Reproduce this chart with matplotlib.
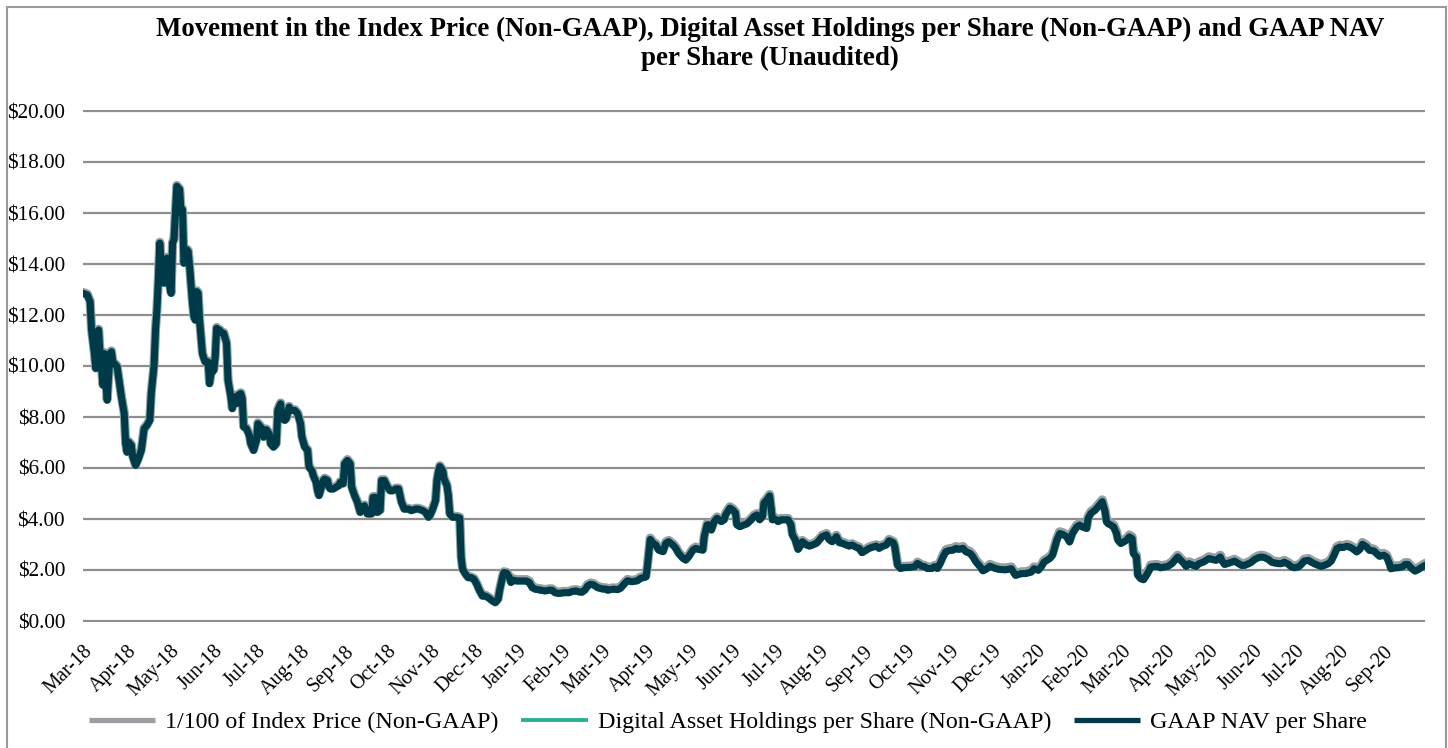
import matplotlib
matplotlib.use('Agg')
import matplotlib.pyplot as plt
import matplotlib.dates as mdates
from matplotlib.ticker import FuncFormatter
from matplotlib.lines import Line2D
from matplotlib.patches import Rectangle
import pandas as pd

# ---------------- data ----------------
start_date = '2018-03-01'
end_date = '2020-09-30'

day_offset = [
    0, 3, 5, 6, 8, 9, 10, 11, 12, 13, 14, 15, 16, 17, 19, 20, 21, 23, 24, 26,
    27, 29, 30, 31, 32, 34, 35, 37, 39, 41, 43, 45, 47, 48, 50, 51, 52, 53, 54, 55,
    57, 58, 59, 60, 62, 63, 64, 65, 66, 68, 69, 70, 71, 73, 74, 75, 77, 78, 79, 80,
    81, 82, 84, 85, 86, 88, 89, 90, 92, 93, 94, 95, 96, 98, 99, 101, 102, 104, 105, 106,
    108, 109, 111, 112, 113, 115, 117, 118, 120, 122, 123, 126, 127, 129, 131, 132, 134, 136, 137, 139,
    140, 142, 143, 145, 146, 149, 151, 153, 154, 156, 158, 159, 161, 162, 164, 165, 166, 167, 169, 170,
    172, 173, 174, 176, 178, 180,
    181, 183, 184, 186, 188, 189, 191, 193, 195, 196, 198, 200, 203, 204, 206, 207, 209, 210, 212, 214,
    216, 218, 220, 222, 224, 226, 229, 231, 234, 236, 239, 241, 243, 244, 246, 248, 249, 250, 251, 253,
    254, 256, 257, 258, 260, 263, 265, 266, 267, 269, 271, 273, 275, 277, 279, 281, 283, 285, 288, 290,
    292, 293, 295, 296, 298, 300, 301, 303, 305, 310, 312, 314, 316, 318, 322, 325, 328, 330, 332, 335,
    338, 342, 344, 347, 349, 351, 353, 355, 357, 359, 362, 365, 368, 369, 371, 373, 376,
    378, 381, 383, 386, 390, 392, 396, 397, 399, 401, 403, 405, 408, 410, 412, 415, 417, 419, 422, 424,
    426, 429, 431, 433, 436, 437, 439, 440, 442, 444, 446, 449, 451, 452, 455, 457, 459, 460, 462, 465,
    467, 470, 472, 474, 476, 478, 479, 481, 483, 484, 485, 487, 489, 491, 493, 496, 498, 499, 501, 503,
    505, 506, 509, 511, 513, 516, 518, 520, 523, 525, 527, 530, 532, 534, 537, 539, 541, 544, 546, 548,
    551, 553, 555, 558, 560, 562, 565, 567, 570, 571, 573, 575, 577, 580, 582, 585, 587, 590, 592, 594,
    597, 599, 601, 603, 605, 607, 609, 612, 614, 616, 619, 621, 624, 626, 628, 631, 633, 635, 638, 640,
    642, 645,
    649, 653, 656, 660, 663, 667, 669, 672, 674, 676, 680, 682, 685, 687, 689, 692, 694, 696, 699, 701,
    703, 706, 707, 709, 712, 714, 716, 717, 719, 720, 721, 723, 725, 727, 728, 730, 732, 734, 736, 738,
    739, 741, 742, 744, 746, 748, 750, 751, 754, 756, 758, 761, 763, 766, 768, 770, 771, 774, 776, 778,
    781, 783, 785, 788, 790, 792, 795, 797, 800, 801, 803, 805, 808, 810, 812, 815, 817, 820, 822, 824,
    827, 829, 831, 834, 836, 838, 841, 843, 845, 848, 850, 852, 855, 857, 859, 862, 864, 866, 869, 871,
    873, 876, 878, 880, 882, 884, 886, 889, 891, 893, 896, 898, 900, 903, 905, 908, 910, 912, 915, 917,
    919, 920, 923, 925, 928, 930, 932, 934, 937, 939, 942, 944,
]

nav_per_share = [
    12.85, 12.79, 12.52, 11.41, 10.49, 9.90, 11.34, 11.41, 10.49, 9.97, 9.25, 10.49, 9.44, 8.66, 10.49, 10.56, 10.16, 10.03, 9.97, 9.18,
    8.79, 8.13, 6.95, 6.62, 7.02, 6.89, 6.43, 6.10, 6.36, 6.69, 7.54, 7.67, 7.87, 8.92, 10.03, 11.41, 12.20, 13.38, 14.82, 14.03,
    13.25, 13.51, 14.23, 13.38, 12.85, 14.82, 14.95, 16.00, 17.05, 16.92, 16.00, 16.13, 14.03, 14.56, 14.49, 13.90, 12.46, 11.93, 11.80, 12.92,
    12.85, 11.80, 10.49, 10.30, 10.16, 10.16, 9.31, 9.70, 9.84, 10.36, 11.48, 11.34, 11.41, 11.28, 11.28, 10.89, 9.44, 8.79, 8.33, 8.79,
    8.52, 8.85, 8.92, 8.72, 7.61, 7.54, 7.28, 6.95, 6.69, 7.08, 7.74, 7.54, 7.21, 7.50, 7.34, 6.95, 6.82, 6.95, 8.26, 8.52,
    7.93, 7.87, 7.93, 8.39, 8.26, 8.26, 8.13, 7.74, 7.21, 6.82, 6.69, 6.03, 5.90, 5.70, 5.44, 5.11, 4.92, 5.11, 5.51, 5.57,
    5.51, 5.25, 5.18, 5.18, 5.25, 5.31,
    5.44, 5.38, 6.16, 6.30, 6.16, 5.25, 4.92, 4.66, 4.26, 4.46, 4.52, 4.20, 4.20, 4.85, 4.85, 4.26, 4.33, 5.51, 5.51, 5.27,
    5.11, 5.11, 5.18, 5.18, 4.66, 4.39, 4.39, 4.33, 4.39, 4.39, 4.33, 4.26, 4.07, 4.13, 4.39, 4.72, 5.51, 5.84, 6.06, 5.90,
    5.57, 5.31, 4.92, 4.20, 4.07, 4.07, 4.04, 2.49, 2.03, 1.84, 1.70, 1.70, 1.64, 1.44, 1.18, 0.98, 0.98, 0.92, 0.79, 0.72,
    0.85, 1.18, 1.70, 1.90, 1.88, 1.70, 1.51, 1.60, 1.57, 1.57, 1.57, 1.51, 1.31, 1.25, 1.21, 1.18, 1.21, 1.21, 1.11, 1.08,
    1.11, 1.11, 1.16, 1.18, 1.14, 1.13, 1.21, 1.38, 1.44, 1.42, 1.31, 1.26, 1.25, 1.21, 1.23, 1.25, 1.23,
    1.28, 1.47, 1.58, 1.54, 1.58, 1.67, 1.73, 2.13, 3.20, 3.05, 2.98, 2.78, 2.72, 3.05, 3.11, 2.98, 2.85, 2.65, 2.46, 2.39,
    2.52, 2.78, 2.85, 2.81, 2.78, 3.31, 3.77, 3.77, 3.57, 3.90, 4.03, 3.90, 3.97, 4.16, 4.43, 4.36, 4.23, 3.77, 3.70, 3.77,
    3.81, 3.97, 4.10, 4.16, 3.97, 4.10, 4.62, 4.75, 4.91, 4.43, 3.97, 3.99, 3.90, 3.97, 3.97, 3.97, 3.77, 3.38, 3.18, 2.81,
    2.98, 3.11, 2.98, 2.94, 2.98, 3.05, 3.18, 3.31, 3.38, 3.18, 3.11, 3.31, 3.07, 3.05, 2.98, 2.94, 2.98, 2.89, 2.85, 2.68,
    2.78, 2.85, 2.89, 2.94, 2.85, 2.92, 2.98, 3.15, 3.07, 2.92, 2.19, 2.06, 2.09, 2.10, 2.10, 2.13, 2.26, 2.15, 2.13, 2.06,
    2.06, 2.13, 2.06, 2.26, 2.52, 2.72, 2.76, 2.78, 2.85, 2.81, 2.85, 2.72, 2.65, 2.52, 2.33, 2.13, 1.97, 2.02, 2.15, 2.10,
    2.06, 2.02,
    2.01, 2.05, 1.79, 1.86, 1.86, 1.92, 2.05, 1.99, 2.12, 2.31, 2.45, 2.58, 3.17, 3.43, 3.40, 3.30, 3.10, 3.43, 3.69, 3.76,
    3.69, 3.63, 4.02, 4.22, 4.35, 4.48, 4.61, 4.68, 4.28, 3.89, 3.82, 3.76, 3.69, 3.43, 3.17, 3.04, 3.10, 3.17, 3.30, 3.23,
    2.64, 2.51, 1.79, 1.66, 1.62, 1.79, 1.99, 2.12, 2.14, 2.14, 2.09, 2.12, 2.14, 2.25, 2.38, 2.51, 2.45, 2.28, 2.14, 2.25,
    2.18, 2.14, 2.25, 2.31, 2.38, 2.45, 2.41, 2.38, 2.51, 2.38, 2.22, 2.25, 2.31, 2.35, 2.28, 2.18, 2.18, 2.25, 2.31, 2.41,
    2.49, 2.51, 2.49, 2.41, 2.31, 2.28, 2.25, 2.25, 2.31, 2.22, 2.12, 2.09, 2.12, 2.22, 2.35, 2.38, 2.31, 2.25, 2.18, 2.14,
    2.18, 2.25, 2.35, 2.58, 2.84, 2.90, 2.88, 2.93, 2.90, 2.84, 2.71, 2.80, 3.01, 2.90, 2.77, 2.75, 2.64, 2.54, 2.58, 2.51,
    2.25, 2.05, 2.09, 2.09, 2.12, 2.22, 2.22, 2.09, 1.96, 2.01, 2.12, 2.18,
]

holdings_per_share = [
    12.85, 12.79, 12.52, 11.41, 10.49, 9.90, 11.34, 11.41, 10.49, 9.97, 9.25, 10.49, 9.44, 8.66, 10.49, 10.56, 10.16, 10.03, 9.97, 9.18,
    8.79, 8.13, 6.95, 6.62, 7.02, 6.89, 6.43, 6.10, 6.36, 6.69, 7.54, 7.67, 7.87, 8.92, 10.03, 11.41, 12.20, 13.38, 14.82, 14.03,
    13.25, 13.51, 14.23, 13.38, 12.85, 14.82, 14.95, 16.00, 17.05, 16.92, 16.00, 16.13, 14.03, 14.56, 14.49, 13.90, 12.46, 11.93, 11.80, 12.92,
    12.85, 11.80, 10.49, 10.30, 10.16, 10.16, 9.31, 9.70, 9.84, 10.36, 11.48, 11.34, 11.41, 11.28, 11.28, 10.89, 9.44, 8.79, 8.33, 8.79,
    8.52, 8.85, 8.92, 8.72, 7.61, 7.54, 7.28, 6.95, 6.69, 7.08, 7.74, 7.54, 7.21, 7.50, 7.34, 6.95, 6.82, 6.95, 8.26, 8.52,
    7.93, 7.87, 7.93, 8.39, 8.26, 8.26, 8.13, 7.74, 7.21, 6.82, 6.69, 6.03, 5.90, 5.70, 5.44, 5.11, 4.92, 5.11, 5.51, 5.57,
    5.51, 5.25, 5.18, 5.18, 5.25, 5.31,
    5.44, 5.38, 6.16, 6.30, 6.16, 5.25, 4.92, 4.66, 4.26, 4.46, 4.52, 4.20, 4.20, 4.85, 4.85, 4.26, 4.33, 5.51, 5.51, 5.27,
    5.11, 5.11, 5.18, 5.18, 4.66, 4.39, 4.39, 4.33, 4.39, 4.39, 4.33, 4.26, 4.07, 4.13, 4.39, 4.72, 5.51, 5.84, 6.06, 5.90,
    5.57, 5.31, 4.92, 4.20, 4.07, 4.07, 4.04, 2.49, 2.03, 1.84, 1.70, 1.70, 1.64, 1.44, 1.18, 0.98, 0.98, 0.92, 0.79, 0.72,
    0.85, 1.18, 1.70, 1.90, 1.88, 1.70, 1.51, 1.60, 1.57, 1.57, 1.57, 1.51, 1.31, 1.25, 1.21, 1.18, 1.21, 1.21, 1.11, 1.08,
    1.11, 1.11, 1.16, 1.18, 1.14, 1.13, 1.21, 1.38, 1.44, 1.42, 1.31, 1.26, 1.25, 1.21, 1.23, 1.25, 1.23,
    1.28, 1.47, 1.58, 1.54, 1.58, 1.67, 1.73, 2.13, 3.20, 3.05, 2.98, 2.78, 2.72, 3.05, 3.11, 2.98, 2.85, 2.65, 2.46, 2.39,
    2.52, 2.78, 2.85, 2.81, 2.78, 3.31, 3.77, 3.77, 3.57, 3.90, 4.03, 3.90, 3.97, 4.16, 4.43, 4.36, 4.23, 3.77, 3.70, 3.77,
    3.81, 3.97, 4.10, 4.16, 3.97, 4.10, 4.62, 4.75, 4.91, 4.43, 3.97, 3.99, 3.90, 3.97, 3.97, 3.97, 3.77, 3.38, 3.18, 2.81,
    2.98, 3.11, 2.98, 2.94, 2.98, 3.05, 3.18, 3.31, 3.38, 3.18, 3.11, 3.31, 3.07, 3.05, 2.98, 2.94, 2.98, 2.89, 2.85, 2.68,
    2.78, 2.85, 2.89, 2.94, 2.85, 2.92, 2.98, 3.15, 3.07, 2.92, 2.19, 2.06, 2.09, 2.10, 2.10, 2.13, 2.26, 2.15, 2.13, 2.06,
    2.06, 2.13, 2.06, 2.26, 2.52, 2.72, 2.76, 2.78, 2.85, 2.81, 2.85, 2.72, 2.65, 2.52, 2.33, 2.13, 1.97, 2.02, 2.15, 2.10,
    2.06, 2.02,
    2.01, 2.05, 1.79, 1.86, 1.86, 1.92, 2.05, 1.99, 2.12, 2.31, 2.45, 2.58, 3.17, 3.43, 3.40, 3.30, 3.10, 3.43, 3.69, 3.76,
    3.69, 3.63, 4.02, 4.22, 4.35, 4.48, 4.61, 4.68, 4.28, 3.89, 3.82, 3.76, 3.69, 3.43, 3.17, 3.04, 3.10, 3.17, 3.30, 3.23,
    2.64, 2.51, 1.79, 1.66, 1.62, 1.79, 1.99, 2.12, 2.14, 2.14, 2.09, 2.12, 2.14, 2.25, 2.38, 2.51, 2.45, 2.28, 2.14, 2.25,
    2.18, 2.14, 2.25, 2.31, 2.38, 2.45, 2.41, 2.38, 2.51, 2.38, 2.22, 2.25, 2.31, 2.35, 2.28, 2.18, 2.18, 2.25, 2.31, 2.41,
    2.49, 2.51, 2.49, 2.41, 2.31, 2.28, 2.25, 2.25, 2.31, 2.22, 2.12, 2.09, 2.12, 2.22, 2.35, 2.38, 2.31, 2.25, 2.18, 2.14,
    2.18, 2.25, 2.35, 2.58, 2.84, 2.90, 2.88, 2.93, 2.90, 2.84, 2.71, 2.80, 3.01, 2.90, 2.77, 2.75, 2.64, 2.54, 2.58, 2.51,
    2.25, 2.05, 2.09, 2.09, 2.12, 2.22, 2.22, 2.09, 1.96, 2.01, 2.12, 2.18,
]

index_price_div100 = [
    12.88, 12.82, 12.55, 11.44, 10.52, 9.93, 11.37, 11.44, 10.52, 10.00, 9.28, 10.52, 9.47, 8.69, 10.52, 10.59, 10.19, 10.06, 10.00, 9.21,
    8.82, 8.16, 6.98, 6.65, 7.05, 6.92, 6.46, 6.13, 6.39, 6.72, 7.57, 7.70, 7.90, 8.95, 10.06, 11.44, 12.23, 13.41, 14.85, 14.06,
    13.28, 13.54, 14.26, 13.41, 12.88, 14.85, 14.98, 16.03, 17.08, 16.95, 16.03, 16.16, 14.06, 14.59, 14.52, 13.93, 12.49, 11.96, 11.83, 12.95,
    12.88, 11.83, 10.52, 10.33, 10.19, 10.19, 9.34, 9.73, 9.87, 10.39, 11.51, 11.37, 11.44, 11.31, 11.31, 10.92, 9.47, 8.82, 8.36, 8.82,
    8.55, 8.88, 8.95, 8.75, 7.64, 7.57, 7.31, 6.98, 6.72, 7.11, 7.77, 7.57, 7.24, 7.53, 7.37, 6.98, 6.85, 6.98, 8.29, 8.55,
    7.96, 7.90, 7.96, 8.42, 8.29, 8.29, 8.16, 7.77, 7.24, 6.85, 6.72, 6.06, 5.93, 5.73, 5.47, 5.14, 4.95, 5.14, 5.54, 5.60,
    5.54, 5.28, 5.21, 5.21, 5.28, 5.34,
    5.47, 5.41, 6.19, 6.33, 6.19, 5.28, 4.95, 4.69, 4.29, 4.49, 4.55, 4.23, 4.23, 4.88, 4.88, 4.29, 4.36, 5.54, 5.54, 5.30,
    5.14, 5.14, 5.21, 5.21, 4.69, 4.42, 4.42, 4.36, 4.42, 4.42, 4.36, 4.29, 4.10, 4.16, 4.42, 4.75, 5.54, 5.87, 6.09, 5.93,
    5.60, 5.34, 4.95, 4.23, 4.10, 4.10, 4.07, 2.52, 2.06, 1.87, 1.73, 1.73, 1.67, 1.47, 1.21, 1.01, 1.01, 0.95, 0.82, 0.75,
    0.88, 1.21, 1.73, 1.93, 1.91, 1.75, 1.56, 1.65, 1.62, 1.62, 1.62, 1.56, 1.36, 1.30, 1.26, 1.23, 1.26, 1.26, 1.16, 1.13,
    1.16, 1.16, 1.21, 1.23, 1.19, 1.18, 1.26, 1.43, 1.49, 1.47, 1.36, 1.31, 1.30, 1.26, 1.28, 1.30, 1.28,
    1.33, 1.52, 1.63, 1.59, 1.63, 1.72, 1.78, 2.18, 3.25, 3.10, 3.03, 2.83, 2.77, 3.10, 3.16, 3.03, 2.90, 2.70, 2.51, 2.44,
    2.57, 2.83, 2.90, 2.86, 2.83, 3.36, 3.82, 3.82, 3.62, 3.95, 4.08, 3.95, 4.02, 4.21, 4.48, 4.41, 4.28, 3.82, 3.75, 3.82,
    3.86, 4.02, 4.15, 4.21, 4.02, 4.15, 4.67, 4.80, 4.96, 4.48, 4.02, 4.04, 3.95, 4.02, 4.02, 4.02, 3.82, 3.43, 3.23, 2.86,
    3.03, 3.16, 3.03, 2.99, 3.03, 3.10, 3.23, 3.36, 3.43, 3.23, 3.16, 3.36, 3.12, 3.10, 3.03, 2.99, 3.03, 2.94, 2.90, 2.73,
    2.83, 2.90, 2.94, 2.99, 2.90, 2.97, 3.03, 3.20, 3.12, 2.97, 2.24, 2.11, 2.14, 2.15, 2.15, 2.18, 2.31, 2.20, 2.18, 2.11,
    2.11, 2.18, 2.13, 2.33, 2.59, 2.79, 2.83, 2.85, 2.92, 2.88, 2.92, 2.79, 2.72, 2.59, 2.40, 2.20, 2.04, 2.09, 2.22, 2.17,
    2.13, 2.09,
    2.08, 2.12, 1.86, 1.93, 1.93, 1.99, 2.12, 2.06, 2.19, 2.38, 2.52, 2.65, 3.24, 3.50, 3.47, 3.37, 3.17, 3.50, 3.76, 3.83,
    3.76, 3.70, 4.09, 4.29, 4.42, 4.55, 4.68, 4.75, 4.35, 3.96, 3.89, 3.83, 3.76, 3.50, 3.24, 3.11, 3.17, 3.24, 3.37, 3.30,
    2.71, 2.58, 1.86, 1.73, 1.69, 1.86, 2.06, 2.19, 2.21, 2.21, 2.16, 2.19, 2.21, 2.32, 2.45, 2.58, 2.52, 2.35, 2.21, 2.32,
    2.25, 2.21, 2.32, 2.38, 2.45, 2.52, 2.48, 2.45, 2.58, 2.45, 2.29, 2.32, 2.38, 2.42, 2.35, 2.25, 2.25, 2.32, 2.38, 2.48,
    2.56, 2.58, 2.56, 2.48, 2.38, 2.35, 2.32, 2.32, 2.38, 2.29, 2.19, 2.16, 2.19, 2.29, 2.42, 2.45, 2.38, 2.32, 2.25, 2.21,
    2.25, 2.32, 2.42, 2.65, 2.91, 2.97, 2.95, 3.00, 2.97, 2.91, 2.78, 2.87, 3.08, 2.97, 2.84, 2.82, 2.71, 2.61, 2.65, 2.58,
    2.32, 2.12, 2.16, 2.16, 2.19, 2.29, 2.29, 2.16, 2.03, 2.08, 2.19, 2.25,
]

y_ticks = [0, 2, 4, 6, 8, 10, 12, 14, 16, 18, 20]
series_labels = [
    '1/100 of Index Price (Non-GAAP)',
    'Digital Asset Holdings per Share (Non-GAAP)',
    'GAAP NAV per Share',
]
title_text = ('Movement in the Index Price (Non-GAAP), Digital Asset Holdings per Share (Non-GAAP) and GAAP NAV\n'
              'per Share (Unaudited)')

# ---------------- style ----------------
GRAY = '#9a9ea2'
TEAL = '#2bb092'
NAVY = '#003a48'
GRID = '#8e8e8e'

plt.rcParams['font.family'] = ['Liberation Serif', 'DejaVu Serif']

W, H = 1448, 748
fig = plt.figure(figsize=(W / 100, H / 100), dpi=100)

y_lo, y_hi = -0.05, 20.05
px_per_unit = 25.5
ax_bottom_px = 621 + 0.05 * px_per_unit
ax_top_px = 111 - 0.05 * px_per_unit
ax = fig.add_axes([83 / W, 1 - ax_bottom_px / H, (1425 - 83) / W, (ax_bottom_px - ax_top_px) / H])

dates = pd.Timestamp(start_date) + pd.to_timedelta(day_offset, unit='D')

ax.plot(dates, index_price_div100, color=GRAY, lw=6.6, zorder=3, solid_joinstyle='round')
ax.plot(dates, holdings_per_share, color=TEAL, lw=5.2, zorder=4, solid_joinstyle='round')
ax.plot(dates, nav_per_share, color=NAVY, lw=5.0, zorder=5, solid_joinstyle='round')

ax.set_ylim(y_lo, y_hi)
ax.set_xlim(pd.Timestamp(start_date), pd.Timestamp(end_date))
ax.set_yticks(y_ticks)
ax.yaxis.set_major_formatter(FuncFormatter(lambda v, p: f'${v:,.2f}'))
ax.grid(axis='y', color=GRID, lw=1.6, zorder=1)
ax.grid(axis='x', visible=False)
ax.set_axisbelow(True)
for s in ax.spines.values():
    s.set_visible(False)
ax.tick_params(axis='y', length=0, pad=13, labelsize=15.3, labelcolor='black')

ax.xaxis.set_major_locator(mdates.MonthLocator())
ax.xaxis.set_major_formatter(mdates.DateFormatter('%b-%y'))
ax.tick_params(axis='x', length=0, pad=14, labelsize=14.5, labelcolor='black')
for lbl in ax.get_xticklabels():
    lbl.set_rotation(45)
    lbl.set_ha('right')
    lbl.set_rotation_mode('anchor')

# title
fig.text(770 / W, 1 - 44 / H, title_text, ha='center', va='center',
         fontsize=19.4, fontweight='bold', linespacing=1.22)

# legend
handles = [
    Line2D([], [], color=GRAY, lw=3.8, solid_capstyle='butt'),
    Line2D([], [], color=TEAL, lw=2.8, solid_capstyle='butt'),
    Line2D([], [], color=NAVY, lw=3.8, solid_capstyle='butt'),
]
fig.legend(handles, series_labels, loc='center', bbox_to_anchor=(728 / W, 1 - 722 / H),
           ncol=3, frameon=False, fontsize=17.3, handlelength=2.75, handletextpad=0.42,
           columnspacing=0.95, borderpad=0)

# outer border
fig.add_artist(Rectangle((7 / W, -0.02), (1446 - 7) / W, 1.02 - 7 / H,
                         transform=fig.transFigure, fill=False, edgecolor='#9a9a9a', lw=1.5))

fig.savefig('out.png', dpi=100)
